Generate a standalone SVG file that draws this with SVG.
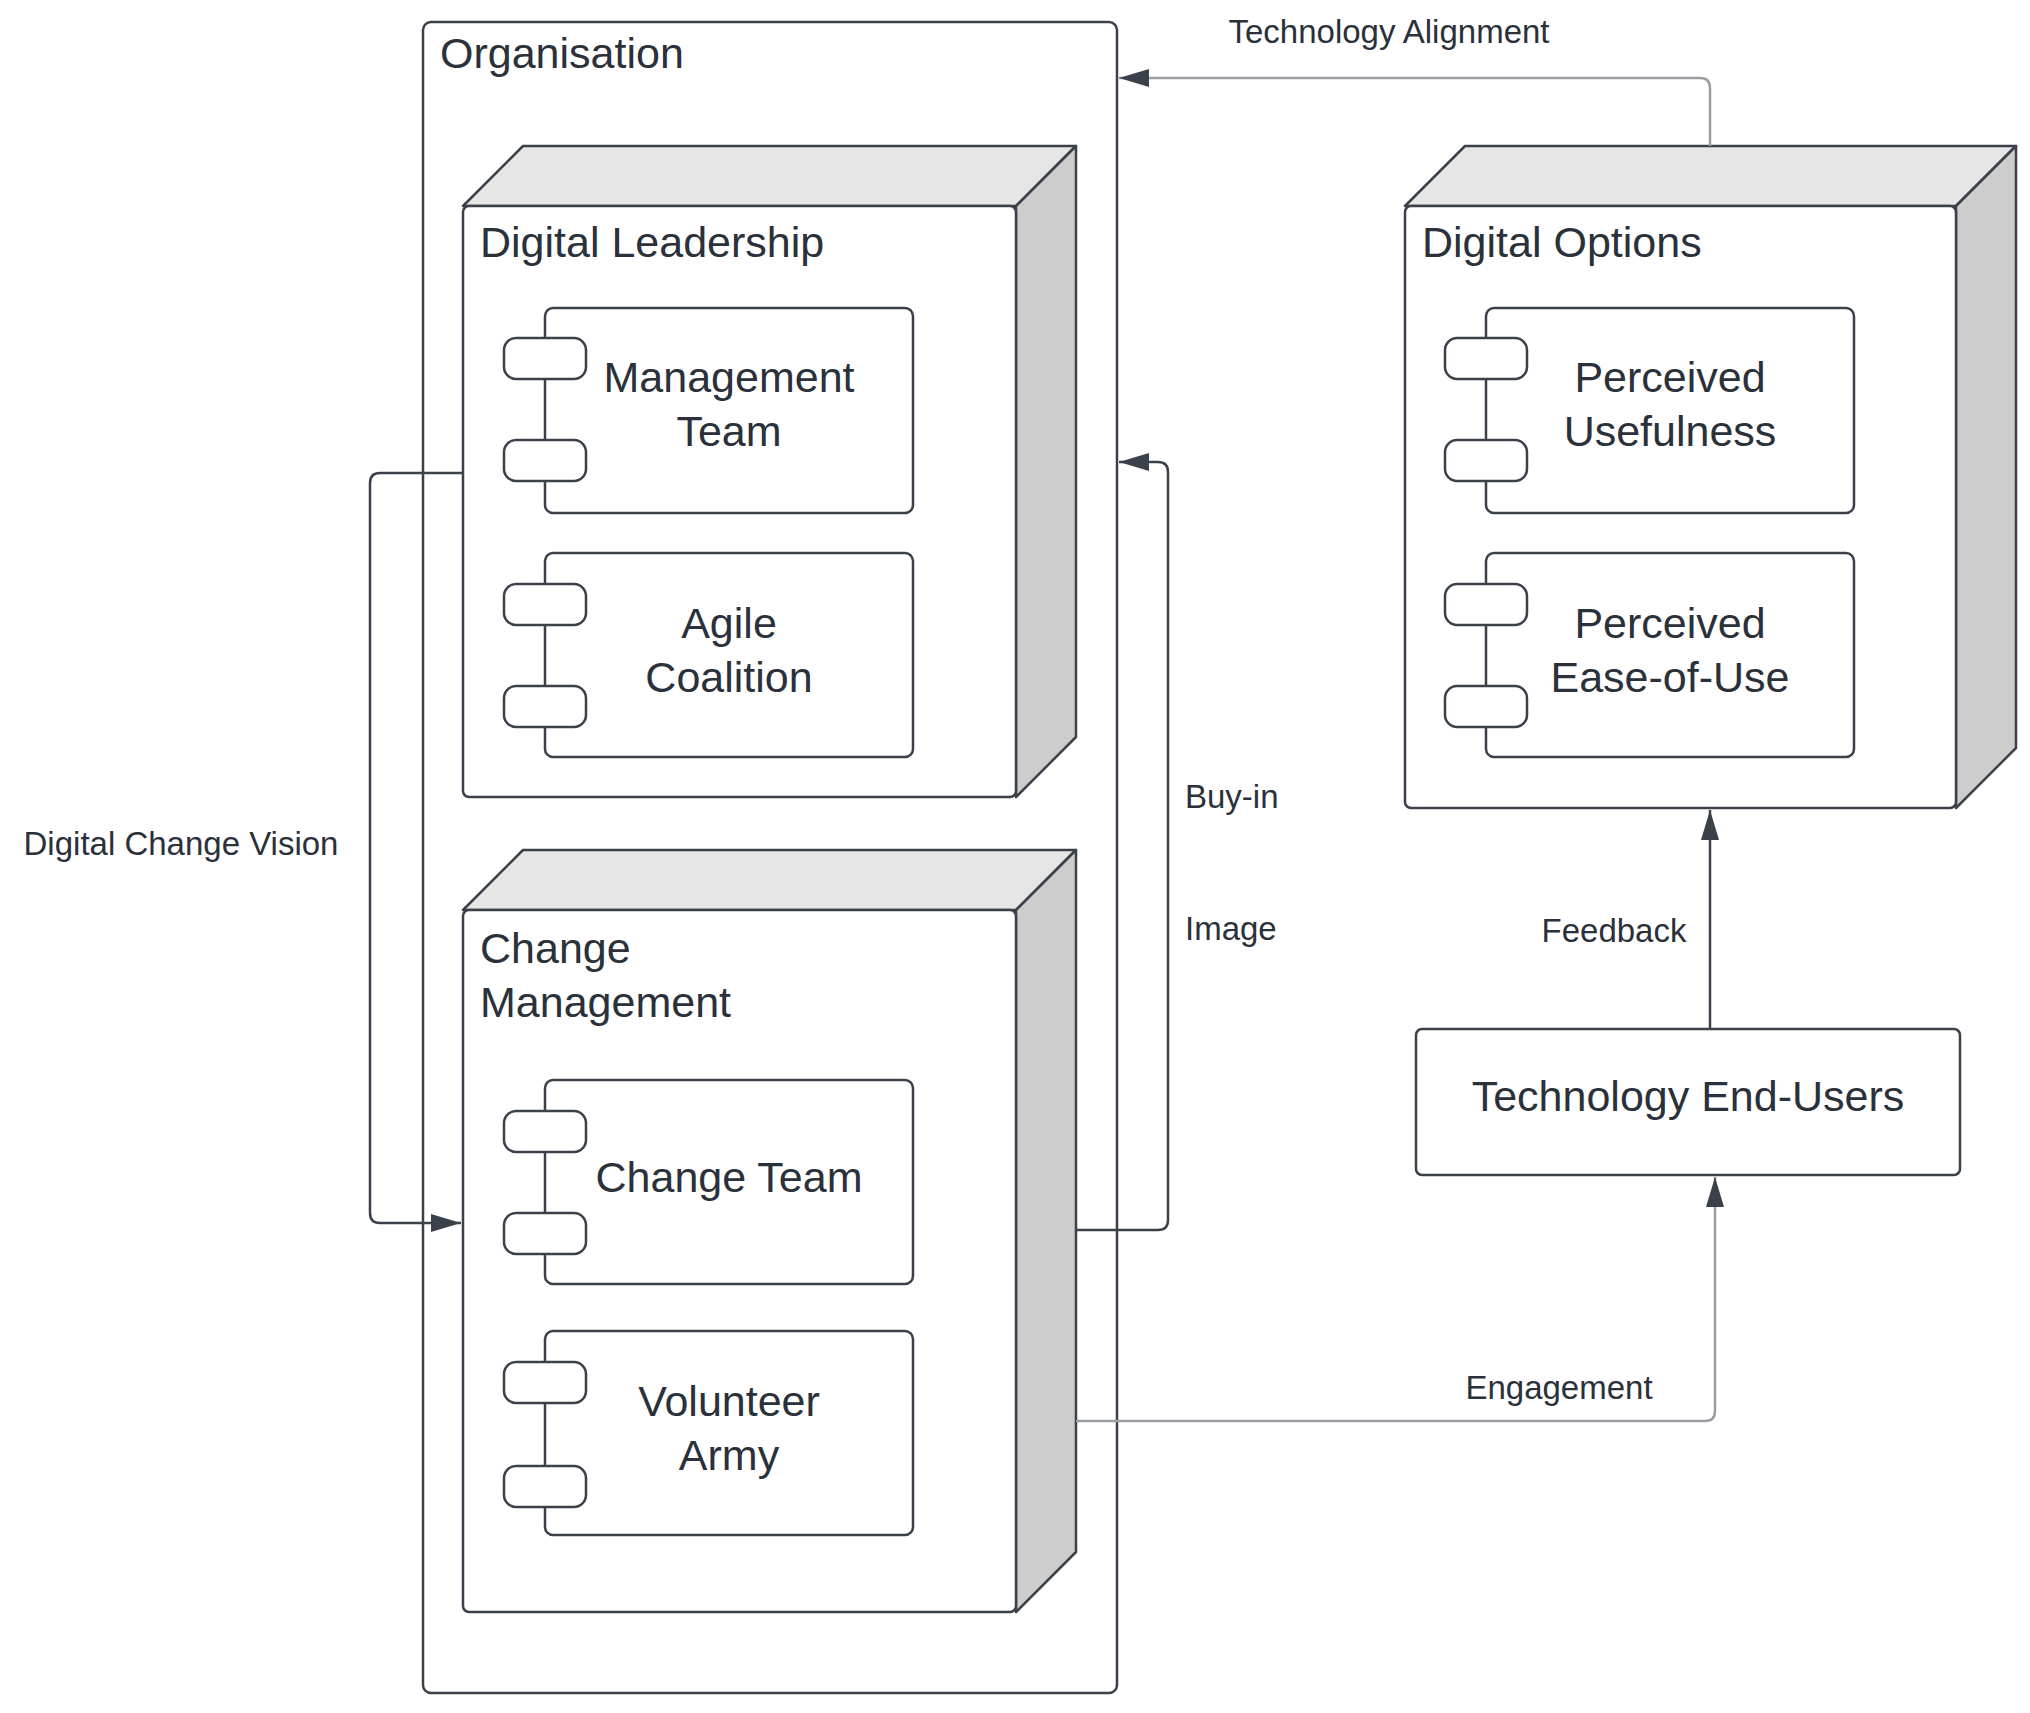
<svg xmlns="http://www.w3.org/2000/svg" width="2030" height="1713" viewBox="0 0 2030 1713">
<defs>
<style>
.b{fill:#fff;stroke:#3a414a;stroke-width:2.5}
.top{fill:#e6e6e6;stroke:#3a414a;stroke-width:2.5;stroke-linejoin:round}
.side{fill:#cdcdcd;stroke:#3a414a;stroke-width:2.5;stroke-linejoin:round}
.t{font-family:"Liberation Sans",Arial,sans-serif;font-size:43px;fill:#2b313a}
.c{text-anchor:middle}
.l{font-family:"Liberation Sans",Arial,sans-serif;font-size:33px;fill:#2b313a}
.e{fill:none;stroke:#3a414a;stroke-width:2.5}
.g{fill:none;stroke:#9a9ea3;stroke-width:2.5}
</style>
<marker id="ah" viewBox="0 0 10 10" refX="10" refY="5" markerWidth="30" markerHeight="30" markerUnits="userSpaceOnUse" orient="auto"><path d="M0,2L10,5L0,8z" fill="#3a414a"/></marker>
</defs>
<g id="organisation"><rect class="b" x="423" y="22" width="694" height="1671" rx="8"/><text class="t" x="440" y="68">Organisation</text></g>
<g id="digital-leadership">
<path class="top" d="M463,206L523,146L1076,146L1016,206Z"/><path class="side" d="M1016,206L1076,146L1076,737L1016,797Z"/>
<rect class="b" x="463" y="206" width="553" height="591" rx="6"/>
<text class="t" x="480" y="257">Digital Leadership</text>
</g>
<g id="management-team"><rect class="b" x="545" y="308" width="368" height="205" rx="8"/><rect class="b" x="504" y="338" width="82" height="41" rx="12"/><rect class="b" x="504" y="440" width="82" height="41" rx="12"/><text class="t c" x="729" y="392">Management</text><text class="t c" x="729" y="446">Team</text></g>
<g id="agile-coalition"><rect class="b" x="545" y="553" width="368" height="204" rx="8"/><rect class="b" x="504" y="584" width="82" height="41" rx="12"/><rect class="b" x="504" y="686" width="82" height="41" rx="12"/><text class="t c" x="729" y="638">Agile</text><text class="t c" x="729" y="692">Coalition</text></g>
<g id="change-management">
<path class="top" d="M463,910L523,850L1076,850L1016,910Z"/><path class="side" d="M1016,910L1076,850L1076,1552L1016,1612Z"/>
<rect class="b" x="463" y="910" width="553" height="702" rx="6"/>
<text class="t" x="480" y="963">Change</text><text class="t" x="480" y="1017">Management</text>
</g>
<g id="change-team"><rect class="b" x="545" y="1080" width="368" height="204" rx="8"/><rect class="b" x="504" y="1111" width="82" height="41" rx="12"/><rect class="b" x="504" y="1213" width="82" height="41" rx="12"/><text class="t c" x="729" y="1192">Change Team</text></g>
<g id="volunteer-army"><rect class="b" x="545" y="1331" width="368" height="204" rx="8"/><rect class="b" x="504" y="1362" width="82" height="41" rx="12"/><rect class="b" x="504" y="1466" width="82" height="41" rx="12"/><text class="t c" x="729" y="1416">Volunteer</text><text class="t c" x="729" y="1470">Army</text></g>
<g id="digital-options">
<path class="top" d="M1405,206L1465,146L2016,146L1956,206Z"/><path class="side" d="M1956,206L2016,146L2016,748L1956,808Z"/>
<rect class="b" x="1405" y="206" width="551" height="602" rx="6"/>
<text class="t" x="1422" y="257">Digital Options</text>
</g>
<g id="perceived-usefulness"><rect class="b" x="1486" y="308" width="368" height="205" rx="8"/><rect class="b" x="1445" y="338" width="82" height="41" rx="12"/><rect class="b" x="1445" y="440" width="82" height="41" rx="12"/><text class="t c" x="1670" y="392">Perceived</text><text class="t c" x="1670" y="446">Usefulness</text></g>
<g id="perceived-ease"><rect class="b" x="1486" y="553" width="368" height="204" rx="8"/><rect class="b" x="1445" y="584" width="82" height="41" rx="12"/><rect class="b" x="1445" y="686" width="82" height="41" rx="12"/><text class="t c" x="1670" y="638">Perceived</text><text class="t c" x="1670" y="692">Ease-of-Use</text></g>
<g id="end-users"><rect class="b" x="1416" y="1029" width="544" height="146" rx="6"/><text class="t c" x="1688" y="1111">Technology End-Users</text></g>
<g id="connectors">
<path class="g" d="M1710,146V88Q1710,78 1700,78H1119" marker-end="url(#ah)"/>
<path class="e" d="M463,473H380Q370,473 370,483V1213Q370,1223 380,1223H461" marker-end="url(#ah)"/>
<path class="e" d="M1076,1230H1158Q1168,1230 1168,1220V472Q1168,462 1158,462H1119" marker-end="url(#ah)"/>
<path class="e" d="M1710,1029V810" marker-end="url(#ah)"/>
<path class="g" d="M1076,1421H1705Q1715,1421 1715,1411V1177" marker-end="url(#ah)"/>
<text class="l c" x="1389" y="43">Technology Alignment</text>
<text class="l c" x="181" y="855">Digital Change Vision</text>
<text class="l" x="1185" y="808">Buy-in</text>
<text class="l" x="1185" y="940">Image</text>
<text class="l c" x="1614" y="942">Feedback</text>
<text class="l c" x="1559" y="1399">Engagement</text>
</g>
</svg>
